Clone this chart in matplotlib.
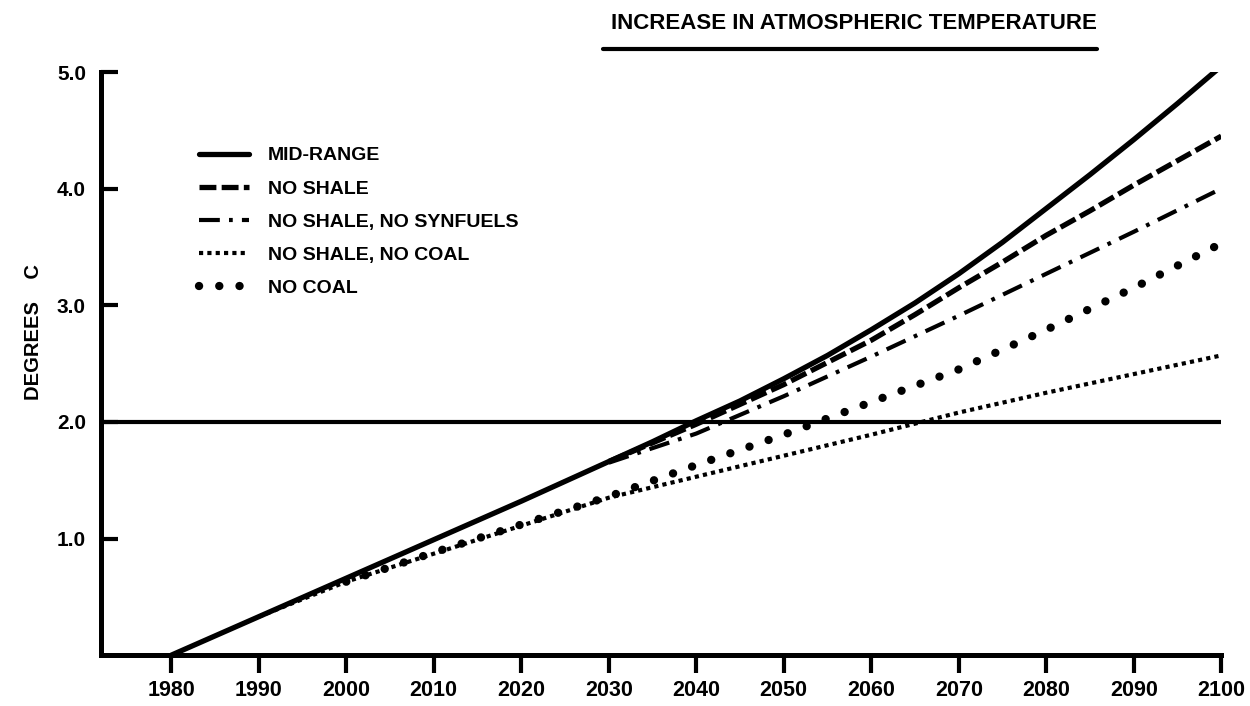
import matplotlib.pyplot as plt
from matplotlib.lines import Line2D

# decade marks along the bottom axis
years = [1980, 1990, 2000, 2010, 2020, 2030, 2040, 2050, 2060, 2070, 2080, 2090, 2100]

# temperature increase (deg C) for each scenario
mid_range_years = [1980, 1990, 2000, 2010, 2020, 2030, 2035, 2040, 2045, 2050, 2055, 2060,
                   2065, 2070, 2075, 2080, 2085, 2090, 2095, 2100]
mid_range = [0.0, 0.33, 0.66, 0.99, 1.32, 1.66, 1.83, 2.01, 2.18, 2.37, 2.57, 2.79,
             3.02, 3.27, 3.54, 3.83, 4.12, 4.42, 4.73, 5.05]

no_shale_years = [2030, 2035, 2040, 2045, 2050, 2055, 2060, 2065, 2070, 2075, 2080,
                  2085, 2090, 2095, 2100]
no_shale = [1.66, 1.82, 1.98, 2.15, 2.32, 2.51, 2.70, 2.92, 3.15, 3.37, 3.60,
            3.81, 4.03, 4.24, 4.45]

no_synfuels_years = [2030, 2040, 2050, 2060, 2070, 2080, 2090, 2100]
no_synfuels = [1.65, 1.90, 2.22, 2.56, 2.91, 3.27, 3.63, 4.00]

no_shale_coal_years = [1990, 2000, 2010, 2020, 2030, 2040, 2050, 2060, 2070, 2080, 2090, 2100]
no_shale_coal = [0.33, 0.63, 0.87, 1.11, 1.35, 1.53, 1.71, 1.89, 2.08, 2.25, 2.41, 2.57]

no_coal_years = [2000, 2010, 2020, 2030, 2040, 2050, 2060, 2070, 2080, 2090, 2100]
no_coal = [0.63, 0.88, 1.12, 1.36, 1.63, 1.89, 2.17, 2.45, 2.79, 3.15, 3.53]

labels = ["MID-RANGE", "NO SHALE", "NO SHALE, NO SYNFUELS", "NO SHALE, NO COAL", "NO COAL"]
y_ticks = [1.0, 2.0, 3.0, 4.0, 5.0]
threshold = 2.0

plt.rcParams['font.family'] = ['Liberation Sans', 'DejaVu Sans']
plt.rcParams['font.weight'] = 'bold'

fig = plt.figure(figsize=(12.5, 7.06), dpi=100)
ax = fig.add_axes([0.081, 0.072, 0.896, 0.826])

ax.axhline(threshold, color='black', lw=3.0, solid_capstyle='butt')

ax.plot(mid_range_years, mid_range, color='black', lw=3.8, solid_capstyle='round',
        solid_joinstyle='round', label=labels[0])
ax.plot(no_shale_years, no_shale, color='black', lw=3.8, linestyle=(0, (3.2, 1.0)),
        dash_capstyle='butt', label=labels[1])
ax.plot(no_synfuels_years, no_synfuels, color='black', lw=3.0, linestyle=(0, (5, 2.2, 0.9, 2.2)),
        dash_capstyle='butt', label=labels[2])
ax.plot(no_shale_coal_years, no_shale_coal, color='black', lw=3.0, linestyle=(0, (1, 1)),
        dash_capstyle='butt', label=labels[3])
# "asterisk" line: big round dots spaced along the curve
ax.plot(no_coal_years, no_coal, color='black', lw=6.0, linestyle=(0, (0.01, 2.42)),
        dash_capstyle='round', label=labels[4])

ax.set_xlim(1972, 2100)
ax.set_ylim(0, 5.0)
ax.set_xticks(years)
ax.set_xticklabels([str(y) for y in years])
ax.set_yticks(y_ticks)
ax.set_yticklabels(["%.1f" % v for v in y_ticks])

for side in ['top', 'right']:
    ax.spines[side].set_visible(False)
for side in ['left', 'bottom']:
    ax.spines[side].set_linewidth(3.6)
    ax.spines[side].set_capstyle('projecting')

ax.tick_params(axis='x', direction='out', length=13, width=3.0, pad=5, labelsize=15.5)
ax.tick_params(axis='y', direction='in', length=12, width=3.0, pad=11, labelsize=15)

fig.text(0.027, 0.53, "DEGREES    C", rotation=90, ha='center', va='center',
         fontsize=14.5, fontweight='bold')

leg = ax.legend(loc='upper left', bbox_to_anchor=(0.159, 0.792), bbox_transform=fig.transFigure,
                frameon=False, fontsize=14, handlelength=2.6, handletextpad=0.95,
                labelspacing=0.8, borderpad=0, borderaxespad=0)
for t in leg.get_texts():
    t.set_fontweight('bold')

title = fig.text(0.683, 0.967, "INCREASE IN ATMOSPHERIC TEMPERATURE", ha='center', va='center',
                 fontsize=16, fontweight='bold')

# underline the title across its full width
fig.canvas.draw()
bb = title.get_window_extent().transformed(fig.transFigure.inverted())
fig.add_artist(Line2D([bb.x0 - 0.006, bb.x1], [0.931, 0.931], color='black', lw=3.0,
                      solid_capstyle='round', transform=fig.transFigure))

fig.savefig("out.png", dpi=100)
